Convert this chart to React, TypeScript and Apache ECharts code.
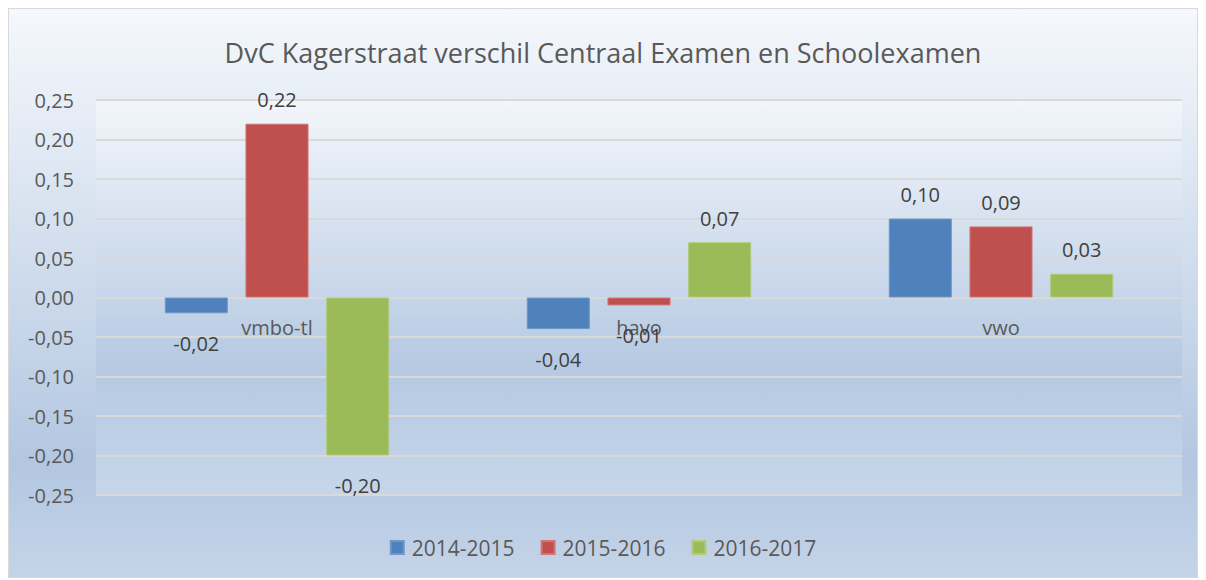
import React, { useEffect, useRef } from "react";
import * as echarts from "echarts";

const categories = ["vmbo-tl", "havo", "vwo"];
const seriesNames = ["2014-2015", "2015-2016", "2016-2017"];
const values2014 = [-0.02, -0.04, 0.1];
const values2015 = [0.22, -0.01, 0.09];
const values2016 = [-0.2, 0.07, 0.03];
const colors = ["#4f81bd", "#c0504d", "#9bbb59"];
const borders = ["#6f97c9", "#d07572", "#b0cb7b"];

const FONT = "'Open Sans', 'Noto Sans', sans-serif";

const fmt = (v: number) => {
  const r = Math.round(v * 100) / 100;
  return (r === 0 ? 0 : r).toFixed(2).replace(".", ",");
};

function makeSeries(name: string, values: number[], idx: number) {
  return {
    name,
    type: "bar",
    barGap: "28%",
    barCategoryGap: "38%",
    itemStyle: { color: colors[idx], borderColor: borders[idx], borderWidth: 1 },
    data: values.map((v) => ({
      value: v,
      label: {
        show: true,
        position: v < 0 ? "bottom" : "top",
        distance: v < 0 ? 20 : 14,
        formatter: () => fmt(v),
        color: "#404040",
        fontSize: 20,
        fontFamily: FONT,
      },
    })),
  };
}

export default function App() {
  const ref = useRef<HTMLDivElement>(null);
  useEffect(() => {
    if (!ref.current) return;
    const chart = echarts.init(ref.current, null, { renderer: "svg" });
    chart.setOption({
      animation: false,
      backgroundColor: {
        type: "linear",
        x: 0,
        y: 0,
        x2: 0,
        y2: 1,
        colorStops: [
          { offset: 0, color: "#f5f8fc" },
          { offset: 0.8, color: "#b3c7e1" },
          { offset: 1, color: "#c4d4e8" },
        ],
      },
      title: {
        text: "DvC Kagerstraat verschil Centraal Examen en Schoolexamen",
        left: "center",
        top: 25,
        textStyle: { color: "#595959", fontSize: 27, fontWeight: "normal", fontFamily: FONT },
      },
      legend: {
        data: seriesNames,
        top: 523,
        left: "center",
        icon: "rect",
        itemWidth: 13,
        itemHeight: 13,
        itemGap: 26,
        textStyle: { color: "#595959", fontSize: 21, fontFamily: FONT, padding: [0, 0, 0, 3] },
      },
      grid: {
        left: 87,
        right: 15,
        top: 91,
        bottom: 82,
        show: true,
        borderWidth: 0,
        backgroundColor: {
          type: "linear",
          x: 0,
          y: 0,
          x2: 0,
          y2: 1,
          colorStops: [
            { offset: 0, color: "#f3f6fb" },
            { offset: 0.68, color: "#b5c9e2" },
            { offset: 1, color: "#c6d6ea" },
          ],
        },
      },
      xAxis: {
        type: "category",
        data: categories,
        offset: -197.5,
        axisLine: { show: false, onZero: false },
        axisTick: { show: false },
        axisLabel: { color: "#595959", fontSize: 20, fontFamily: FONT, margin: 20 },
      },
      yAxis: {
        type: "value",
        min: -0.25,
        max: 0.25,
        interval: 0.05,
        axisLine: { show: false },
        axisTick: { show: false },
        splitLine: { lineStyle: { color: "#d9d9d9", width: 2 } },
        axisLabel: {
          color: "#595959",
          fontSize: 20,
          fontFamily: FONT,
          margin: 22,
          formatter: (v: number) => fmt(v),
        },
      },
      series: [
        makeSeries(seriesNames[0], values2014, 0),
        makeSeries(seriesNames[1], values2015, 1),
        makeSeries(seriesNames[2], values2016, 2),
      ],
    });
    return () => chart.dispose();
  }, []);
  return (
    <div
      ref={ref}
      style={{ width: 1190, height: 570, border: "1px solid #d9d9d9", boxSizing: "border-box" }}
    />
  );
}
